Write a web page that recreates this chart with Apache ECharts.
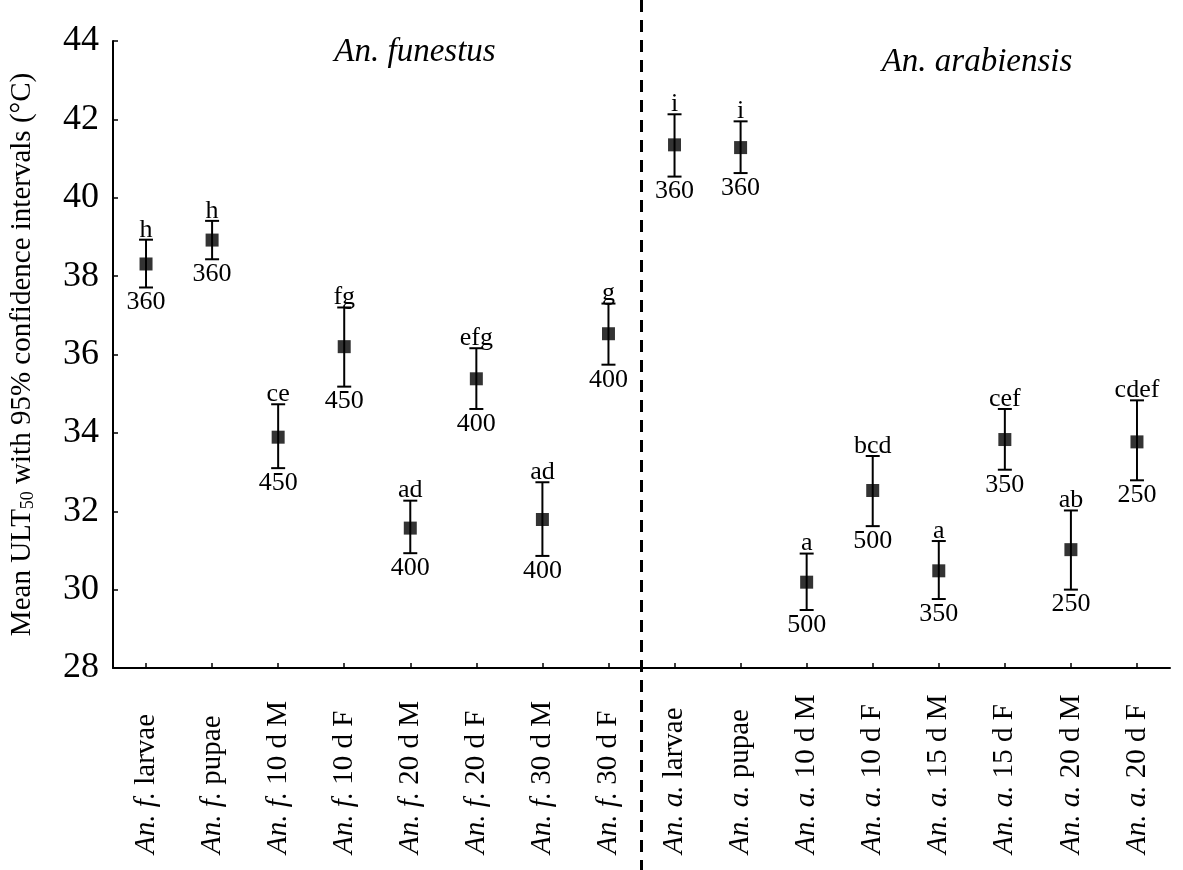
<!DOCTYPE html>
<html>
<head>
<meta charset="utf-8">
<script src="https://cdn.jsdelivr.net/npm/echarts@6/dist/echarts.min.js"></script>
<style>
  html, body { margin: 0; padding: 0; background: #fff; }
  #chart { width: 1183px; height: 870px; }
</style>
</head>
<body>
<div id="chart"></div>
<script>
const categories = [
  "An. f. larvae", "An. f. pupae", "An. f. 10 d M", "An. f. 10 d F",
  "An. f. 20 d M", "An. f. 20 d F", "An. f. 30 d M", "An. f. 30 d F",
  "An. a. larvae", "An. a. pupae", "An. a. 10 d M", "An. a. 10 d F",
  "An. a. 15 d M", "An. a. 15 d F", "An. a. 20 d M", "An. a. 20 d F"
];
const means = [38.31, 38.92, 33.89, 36.2, 31.57, 35.38, 31.79, 36.53,
  41.35, 41.28, 30.19, 32.53, 30.48, 33.83, 31.02, 33.77];
const lower = [37.71, 38.43, 33.1, 35.18, 30.93, 34.61, 30.86, 35.74,
  40.54, 40.63, 29.48, 31.62, 29.76, 33.06, 30.0, 32.79];
const upper = [38.93, 39.41, 34.73, 37.2, 32.27, 36.16, 32.74, 37.3,
  42.13, 41.95, 30.92, 33.41, 31.24, 34.61, 32.02, 34.83];
const letters = ["h", "h", "ce", "fg", "ad", "efg", "ad", "g",
  "i", "i", "a", "bcd", "a", "cef", "ab", "cdef"];
const sampleSizes = [360, 360, 450, 450, 400, 400, 400, 400,
  360, 360, 500, 500, 350, 350, 250, 250];
const yTicks = { min: 28, max: 44, interval: 2 };

const FONT = "Liberation Serif";
const chart = echarts.init(document.getElementById("chart"));

const errData = categories.map((c, i) => [i, lower[i], upper[i], letters[i], sampleSizes[i]]);

chart.setOption({
  animation: false,
  backgroundColor: "#fff",
  grid: { left: 112, right: 13, top: 41, bottom: 202 },
  xAxis: {
    type: "category",
    data: categories,
    axisLine: { lineStyle: { color: "#000", width: 2 } },
    axisTick: { show: true, interval: 0, inside: true, alignWithLabel: true, length: 5, lineStyle: { color: "#000", width: 1.5 } },
    axisLabel: {
      rotate: 90,
      align: "left",
      margin: 186,
      interval: 0,
      color: "#000",
      fontFamily: FONT,
      fontSize: 29,
      formatter: (v) => v.replace(/^(An\. [fa]\.)/, "{i|$1}"),
      rich: { i: { fontStyle: "italic", fontFamily: FONT, fontSize: 29, color: "#000" } }
    }
  },
  yAxis: {
    type: "value",
    min: yTicks.min,
    max: yTicks.max,
    interval: yTicks.interval,
    splitLine: { show: false },
    axisLine: { show: true, lineStyle: { color: "#000", width: 2 } },
    axisTick: { show: true, inside: true, length: 5, lineStyle: { color: "#000", width: 1.5 } },
    axisLabel: { color: "#000", fontFamily: FONT, fontSize: 36, margin: 14 },
    name: "{a|Mean ULT}{s|50}{a| with 95% confidence intervals (°C)}",
    nameLocation: "middle",
    nameRotate: 90,
    nameGap: 76,
    nameTextStyle: {
      rich: {
        a: { fontFamily: FONT, fontSize: 29, color: "#000" },
        s: { fontFamily: FONT, fontSize: 18, color: "#000", verticalAlign: "bottom", padding: [10, 0, 0, 0] }
      }
    }
  },
  series: [
    {
      type: "custom",
      data: errData,
      z: 3,
      renderItem: (params, api) => {
        const x = api.coord([api.value(0), 0])[0];
        const yLo = api.coord([0, api.value(1)])[1];
        const yHi = api.coord([0, api.value(2)])[1];
        const cap = 7;
        const st = { stroke: "#000", lineWidth: 2 };
        return {
          type: "group",
          children: [
            { type: "line", shape: { x1: x, y1: yHi, x2: x, y2: yLo }, style: st },
            { type: "line", shape: { x1: x - cap, y1: yHi, x2: x + cap, y2: yHi }, style: st },
            { type: "line", shape: { x1: x - cap, y1: yLo, x2: x + cap, y2: yLo }, style: st },
            { type: "text", x: x, y: yHi + 3, style: { text: api.value(3), fill: "#000", font: "26px " + FONT, align: "center", verticalAlign: "bottom" } },
            { type: "text", x: x, y: yLo + 2, style: { text: String(api.value(4)), fill: "#000", font: "26px " + FONT, align: "center", verticalAlign: "top" } }
          ]
        };
      }
    },
    {
      type: "scatter",
      data: means.map((m, i) => [i, m]),
      symbol: "rect",
      symbolSize: 13,
      itemStyle: { color: "#000" },
      z: 4
    }
  ]
});

// dashed separator between species groups, plus group titles
const xa = chart.convertToPixel({ xAxisIndex: 0 }, 7);
const xb = chart.convertToPixel({ xAxisIndex: 0 }, 8);
const sepX = (xa + xb) / 2;
chart.setOption({
  graphic: [
    { type: "line", shape: { x1: sepX, y1: 0, x2: sepX, y2: 870 }, style: { stroke: "#000", lineWidth: 3, lineDash: [12, 8] }, z: 10 },
    { type: "text", x: 415, y: 52, style: { text: "An. funestus", fill: "#000", font: "italic 33px " + FONT, align: "center", verticalAlign: "middle" } },
    { type: "text", x: 977, y: 62, style: { text: "An. arabiensis", fill: "#000", font: "italic 33px " + FONT, align: "center", verticalAlign: "middle" } }
  ]
});
</script>
</body>
</html>
